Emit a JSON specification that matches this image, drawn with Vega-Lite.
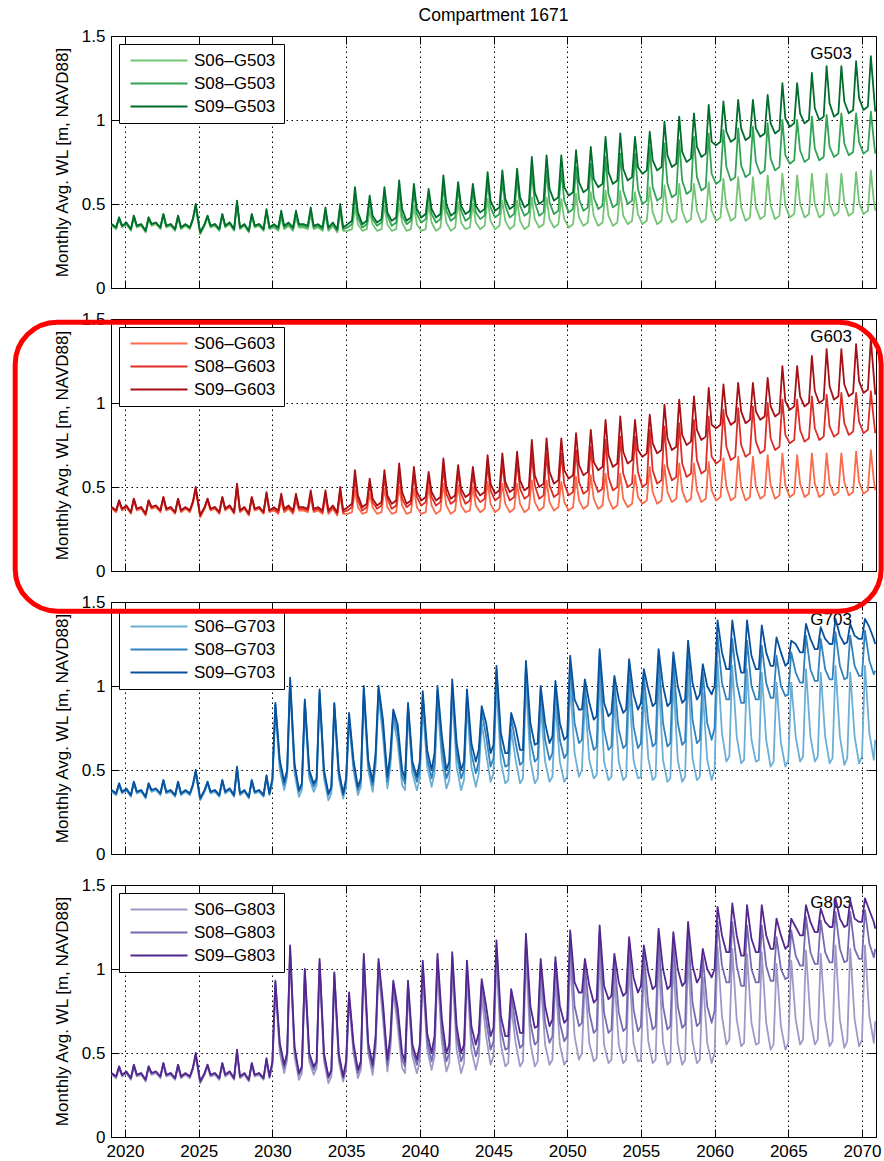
{
"$schema":"https://vega.github.io/schema/vega-lite/v6.json",
"padding":{"left":12,"top":7,"right":2,"bottom":0},
"title":{"text":"Compartment 1671","fontSize":17.5,"fontWeight":"normal","color":"black","anchor":"middle","frame":"group","offset":2},
"datasets":{
"up":[
{"t":2019.1,"a":0.37,"b":0.38,"c":0.38,"d":0.37,"e":0.38,"f":0.38},
{"t":2019.4,"a":0.35,"b":0.36,"c":0.36,"d":0.35,"e":0.36,"f":0.36},
{"t":2019.6,"a":0.41,"b":0.42,"c":0.42,"d":0.41,"e":0.42,"f":0.42},
{"t":2019.8,"a":0.36,"b":0.37,"c":0.37,"d":0.36,"e":0.37,"f":0.37},
{"t":2020.1,"a":0.38,"b":0.38,"c":0.39,"d":0.38,"e":0.38,"f":0.39},
{"t":2020.4,"a":0.34,"b":0.35,"c":0.35,"d":0.34,"e":0.35,"f":0.35},
{"t":2020.6,"a":0.42,"b":0.43,"c":0.43,"d":0.42,"e":0.43,"f":0.43},
{"t":2020.8,"a":0.36,"b":0.37,"c":0.37,"d":0.36,"e":0.37,"f":0.37},
{"t":2021.1,"a":0.37,"b":0.38,"c":0.38,"d":0.37,"e":0.38,"f":0.38},
{"t":2021.4,"a":0.33,"b":0.34,"c":0.34,"d":0.33,"e":0.34,"f":0.34},
{"t":2021.6,"a":0.41,"b":0.42,"c":0.42,"d":0.41,"e":0.42,"f":0.42},
{"t":2021.8,"a":0.37,"b":0.38,"c":0.38,"d":0.37,"e":0.38,"f":0.38},
{"t":2022.1,"a":0.38,"b":0.39,"c":0.39,"d":0.38,"e":0.39,"f":0.39},
{"t":2022.4,"a":0.35,"b":0.36,"c":0.36,"d":0.35,"e":0.36,"f":0.36},
{"t":2022.6,"a":0.43,"b":0.44,"c":0.44,"d":0.43,"e":0.44,"f":0.44},
{"t":2022.8,"a":0.36,"b":0.37,"c":0.37,"d":0.36,"e":0.37,"f":0.37},
{"t":2023.1,"a":0.37,"b":0.38,"c":0.38,"d":0.37,"e":0.38,"f":0.38},
{"t":2023.4,"a":0.34,"b":0.35,"c":0.35,"d":0.34,"e":0.35,"f":0.35},
{"t":2023.6,"a":0.42,"b":0.43,"c":0.43,"d":0.42,"e":0.43,"f":0.43},
{"t":2023.8,"a":0.35,"b":0.36,"c":0.36,"d":0.35,"e":0.36,"f":0.36},
{"t":2024.1,"a":0.37,"b":0.38,"c":0.38,"d":0.37,"e":0.38,"f":0.38},
{"t":2024.4,"a":0.35,"b":0.36,"c":0.36,"d":0.35,"e":0.36,"f":0.36},
{"t":2024.6,"a":0.40,"b":0.41,"c":0.41,"d":0.40,"e":0.41,"f":0.41},
{"t":2024.8,"a":0.48,"b":0.49,"c":0.50,"d":0.48,"e":0.49,"f":0.50},
{"t":2025.1,"a":0.32,"b":0.33,"c":0.33,"d":0.32,"e":0.33,"f":0.33},
{"t":2025.4,"a":0.37,"b":0.38,"c":0.38,"d":0.37,"e":0.38,"f":0.38},
{"t":2025.6,"a":0.42,"b":0.43,"c":0.43,"d":0.42,"e":0.43,"f":0.43},
{"t":2025.8,"a":0.36,"b":0.37,"c":0.37,"d":0.36,"e":0.37,"f":0.37},
{"t":2026.1,"a":0.37,"b":0.38,"c":0.38,"d":0.37,"e":0.38,"f":0.38},
{"t":2026.4,"a":0.34,"b":0.35,"c":0.35,"d":0.34,"e":0.35,"f":0.35},
{"t":2026.6,"a":0.43,"b":0.44,"c":0.44,"d":0.43,"e":0.44,"f":0.44},
{"t":2026.8,"a":0.36,"b":0.37,"c":0.37,"d":0.36,"e":0.37,"f":0.37},
{"t":2027.1,"a":0.38,"b":0.39,"c":0.39,"d":0.38,"e":0.39,"f":0.39},
{"t":2027.4,"a":0.34,"b":0.35,"c":0.35,"d":0.34,"e":0.35,"f":0.35},
{"t":2027.6,"a":0.50,"b":0.51,"c":0.52,"d":0.50,"e":0.51,"f":0.52},
{"t":2027.8,"a":0.35,"b":0.36,"c":0.36,"d":0.35,"e":0.36,"f":0.36},
{"t":2028.1,"a":0.37,"b":0.38,"c":0.38,"d":0.37,"e":0.38,"f":0.38},
{"t":2028.4,"a":0.33,"b":0.34,"c":0.34,"d":0.33,"e":0.34,"f":0.34},
{"t":2028.6,"a":0.43,"b":0.44,"c":0.44,"d":0.43,"e":0.44,"f":0.44},
{"t":2028.8,"a":0.36,"b":0.37,"c":0.37,"d":0.36,"e":0.37,"f":0.37},
{"t":2029.1,"a":0.37,"b":0.38,"c":0.38,"d":0.37,"e":0.38,"f":0.38},
{"t":2029.4,"a":0.34,"b":0.35,"c":0.35,"d":0.34,"e":0.35,"f":0.35},
{"t":2029.6,"a":0.45,"b":0.46,"c":0.47,"d":0.45,"e":0.46,"f":0.47},
{"t":2029.8,"a":0.35,"b":0.36,"c":0.36,"d":0.35,"e":0.36,"f":0.36},
{"t":2030.1,"a":0.36,"b":0.37,"c":0.38,"d":0.36,"e":0.37,"f":0.38},
{"t":2030.4,"a":0.34,"b":0.35,"c":0.36,"d":0.34,"e":0.35,"f":0.36},
{"t":2030.6,"a":0.42,"b":0.44,"c":0.46,"d":0.42,"e":0.44,"f":0.46},
{"t":2030.8,"a":0.35,"b":0.36,"c":0.37,"d":0.35,"e":0.36,"f":0.37},
{"t":2031.1,"a":0.37,"b":0.38,"c":0.39,"d":0.37,"e":0.38,"f":0.39},
{"t":2031.4,"a":0.34,"b":0.35,"c":0.36,"d":0.34,"e":0.35,"f":0.36},
{"t":2031.6,"a":0.42,"b":0.44,"c":0.46,"d":0.42,"e":0.44,"f":0.46},
{"t":2031.8,"a":0.36,"b":0.37,"c":0.38,"d":0.36,"e":0.37,"f":0.38},
{"t":2032.1,"a":0.36,"b":0.37,"c":0.38,"d":0.36,"e":0.37,"f":0.38},
{"t":2032.4,"a":0.35,"b":0.36,"c":0.37,"d":0.35,"e":0.36,"f":0.37},
{"t":2032.6,"a":0.44,"b":0.46,"c":0.48,"d":0.44,"e":0.46,"f":0.48},
{"t":2032.8,"a":0.35,"b":0.36,"c":0.37,"d":0.35,"e":0.36,"f":0.37},
{"t":2033.1,"a":0.36,"b":0.37,"c":0.38,"d":0.36,"e":0.37,"f":0.38},
{"t":2033.4,"a":0.34,"b":0.35,"c":0.36,"d":0.34,"e":0.35,"f":0.36},
{"t":2033.6,"a":0.44,"b":0.46,"c":0.48,"d":0.44,"e":0.46,"f":0.48},
{"t":2033.8,"a":0.34,"b":0.35,"c":0.36,"d":0.34,"e":0.35,"f":0.36},
{"t":2034.1,"a":0.37,"b":0.38,"c":0.39,"d":0.37,"e":0.38,"f":0.39},
{"t":2034.4,"a":0.33,"b":0.34,"c":0.35,"d":0.33,"e":0.34,"f":0.35},
{"t":2034.6,"a":0.45,"b":0.48,"c":0.50,"d":0.45,"e":0.48,"f":0.50},
{"t":2034.8,"a":0.34,"b":0.35,"c":0.36,"d":0.34,"e":0.35,"f":0.36},
{"t":2035.1,"a":0.34,"b":0.36,"c":0.38,"d":0.34,"e":0.36,"f":0.38},
{"t":2035.4,"a":0.35,"b":0.38,"c":0.40,"d":0.35,"e":0.38,"f":0.40},
{"t":2035.6,"a":0.48,"b":0.55,"c":0.60,"d":0.48,"e":0.55,"f":0.60},
{"t":2035.8,"a":0.38,"b":0.42,"c":0.45,"d":0.38,"e":0.42,"f":0.45},
{"t":2036.1,"a":0.34,"b":0.36,"c":0.38,"d":0.34,"e":0.36,"f":0.38},
{"t":2036.4,"a":0.35,"b":0.38,"c":0.40,"d":0.35,"e":0.38,"f":0.40},
{"t":2036.6,"a":0.46,"b":0.52,"c":0.55,"d":0.46,"e":0.52,"f":0.55},
{"t":2036.8,"a":0.38,"b":0.41,"c":0.43,"d":0.38,"e":0.41,"f":0.43},
{"t":2037.1,"a":0.34,"b":0.37,"c":0.39,"d":0.34,"e":0.37,"f":0.39},
{"t":2037.4,"a":0.35,"b":0.39,"c":0.41,"d":0.35,"e":0.39,"f":0.41},
{"t":2037.6,"a":0.49,"b":0.56,"c":0.60,"d":0.49,"e":0.56,"f":0.60},
{"t":2037.8,"a":0.38,"b":0.43,"c":0.45,"d":0.38,"e":0.43,"f":0.45},
{"t":2038.1,"a":0.34,"b":0.37,"c":0.40,"d":0.34,"e":0.37,"f":0.40},
{"t":2038.4,"a":0.35,"b":0.39,"c":0.42,"d":0.35,"e":0.39,"f":0.42},
{"t":2038.6,"a":0.50,"b":0.58,"c":0.64,"d":0.50,"e":0.58,"f":0.64},
{"t":2038.8,"a":0.39,"b":0.43,"c":0.47,"d":0.39,"e":0.43,"f":0.47},
{"t":2039.1,"a":0.34,"b":0.38,"c":0.40,"d":0.34,"e":0.38,"f":0.40},
{"t":2039.4,"a":0.35,"b":0.40,"c":0.42,"d":0.35,"e":0.40,"f":0.42},
{"t":2039.6,"a":0.49,"b":0.57,"c":0.62,"d":0.49,"e":0.57,"f":0.62},
{"t":2039.8,"a":0.38,"b":0.44,"c":0.47,"d":0.38,"e":0.44,"f":0.47},
{"t":2040.1,"a":0.34,"b":0.39,"c":0.42,"d":0.34,"e":0.39,"f":0.42},
{"t":2040.4,"a":0.35,"b":0.41,"c":0.44,"d":0.35,"e":0.41,"f":0.44},
{"t":2040.6,"a":0.50,"b":0.56,"c":0.59,"d":0.50,"e":0.56,"f":0.59},
{"t":2040.8,"a":0.39,"b":0.44,"c":0.47,"d":0.39,"e":0.44,"f":0.47},
{"t":2041.1,"a":0.34,"b":0.39,"c":0.42,"d":0.34,"e":0.39,"f":0.42},
{"t":2041.4,"a":0.36,"b":0.41,"c":0.44,"d":0.36,"e":0.41,"f":0.44},
{"t":2041.6,"a":0.52,"b":0.61,"c":0.67,"d":0.52,"e":0.61,"f":0.67},
{"t":2041.8,"a":0.39,"b":0.46,"c":0.50,"d":0.39,"e":0.46,"f":0.50},
{"t":2042.1,"a":0.34,"b":0.40,"c":0.43,"d":0.34,"e":0.40,"f":0.43},
{"t":2042.4,"a":0.36,"b":0.42,"c":0.45,"d":0.36,"e":0.42,"f":0.45},
{"t":2042.6,"a":0.51,"b":0.59,"c":0.63,"d":0.51,"e":0.59,"f":0.63},
{"t":2042.8,"a":0.39,"b":0.46,"c":0.49,"d":0.39,"e":0.46,"f":0.49},
{"t":2043.1,"a":0.35,"b":0.40,"c":0.44,"d":0.35,"e":0.40,"f":0.44},
{"t":2043.4,"a":0.36,"b":0.42,"c":0.46,"d":0.36,"e":0.42,"f":0.46},
{"t":2043.6,"a":0.50,"b":0.58,"c":0.62,"d":0.50,"e":0.58,"f":0.62},
{"t":2043.8,"a":0.39,"b":0.45,"c":0.49,"d":0.39,"e":0.45,"f":0.49},
{"t":2044.1,"a":0.35,"b":0.41,"c":0.45,"d":0.35,"e":0.41,"f":0.45},
{"t":2044.4,"a":0.37,"b":0.43,"c":0.47,"d":0.37,"e":0.43,"f":0.47},
{"t":2044.6,"a":0.53,"b":0.63,"c":0.69,"d":0.53,"e":0.63,"f":0.69},
{"t":2044.8,"a":0.40,"b":0.48,"c":0.52,"d":0.40,"e":0.48,"f":0.52},
{"t":2045.1,"a":0.35,"b":0.42,"c":0.46,"d":0.35,"e":0.42,"f":0.46},
{"t":2045.4,"a":0.37,"b":0.44,"c":0.48,"d":0.37,"e":0.44,"f":0.48},
{"t":2045.6,"a":0.52,"b":0.64,"c":0.70,"d":0.52,"e":0.64,"f":0.70},
{"t":2045.8,"a":0.40,"b":0.49,"c":0.53,"d":0.40,"e":0.49,"f":0.53},
{"t":2046.1,"a":0.35,"b":0.42,"c":0.47,"d":0.35,"e":0.42,"f":0.47},
{"t":2046.4,"a":0.37,"b":0.44,"c":0.49,"d":0.37,"e":0.44,"f":0.49},
{"t":2046.6,"a":0.52,"b":0.65,"c":0.71,"d":0.52,"e":0.65,"f":0.71},
{"t":2046.8,"a":0.40,"b":0.49,"c":0.54,"d":0.40,"e":0.49,"f":0.54},
{"t":2047.1,"a":0.35,"b":0.43,"c":0.48,"d":0.35,"e":0.43,"f":0.48},
{"t":2047.4,"a":0.37,"b":0.45,"c":0.50,"d":0.37,"e":0.45,"f":0.50},
{"t":2047.6,"a":0.54,"b":0.69,"c":0.78,"d":0.54,"e":0.69,"f":0.78},
{"t":2047.8,"a":0.41,"b":0.51,"c":0.57,"d":0.41,"e":0.51,"f":0.57},
{"t":2048.1,"a":0.36,"b":0.43,"c":0.50,"d":0.36,"e":0.43,"f":0.50},
{"t":2048.4,"a":0.38,"b":0.45,"c":0.52,"d":0.38,"e":0.45,"f":0.52},
{"t":2048.6,"a":0.54,"b":0.70,"c":0.79,"d":0.54,"e":0.70,"f":0.79},
{"t":2048.8,"a":0.41,"b":0.51,"c":0.59,"d":0.41,"e":0.51,"f":0.59},
{"t":2049.1,"a":0.36,"b":0.44,"c":0.52,"d":0.36,"e":0.44,"f":0.52},
{"t":2049.4,"a":0.38,"b":0.46,"c":0.54,"d":0.38,"e":0.46,"f":0.54},
{"t":2049.6,"a":0.53,"b":0.70,"c":0.79,"d":0.53,"e":0.70,"f":0.79},
{"t":2049.8,"a":0.41,"b":0.52,"c":0.60,"d":0.41,"e":0.52,"f":0.60},
{"t":2050.1,"a":0.36,"b":0.45,"c":0.55,"d":0.36,"e":0.45,"f":0.55},
{"t":2050.4,"a":0.38,"b":0.47,"c":0.57,"d":0.38,"e":0.47,"f":0.57},
{"t":2050.6,"a":0.56,"b":0.72,"c":0.82,"d":0.56,"e":0.72,"f":0.82},
{"t":2050.8,"a":0.42,"b":0.53,"c":0.63,"d":0.42,"e":0.53,"f":0.63},
{"t":2051.1,"a":0.37,"b":0.46,"c":0.57,"d":0.37,"e":0.46,"f":0.57},
{"t":2051.4,"a":0.39,"b":0.48,"c":0.59,"d":0.39,"e":0.48,"f":0.59},
{"t":2051.6,"a":0.57,"b":0.74,"c":0.84,"d":0.57,"e":0.74,"f":0.84},
{"t":2051.8,"a":0.43,"b":0.54,"c":0.65,"d":0.43,"e":0.54,"f":0.65},
{"t":2052.1,"a":0.37,"b":0.47,"c":0.60,"d":0.37,"e":0.47,"f":0.60},
{"t":2052.4,"a":0.39,"b":0.49,"c":0.62,"d":0.39,"e":0.49,"f":0.62},
{"t":2052.6,"a":0.58,"b":0.78,"c":0.90,"d":0.58,"e":0.78,"f":0.90},
{"t":2052.8,"a":0.43,"b":0.56,"c":0.69,"d":0.43,"e":0.56,"f":0.69},
{"t":2053.1,"a":0.37,"b":0.48,"c":0.62,"d":0.37,"e":0.48,"f":0.62},
{"t":2053.4,"a":0.39,"b":0.50,"c":0.64,"d":0.39,"e":0.50,"f":0.64},
{"t":2053.6,"a":0.58,"b":0.80,"c":0.92,"d":0.58,"e":0.80,"f":0.92},
{"t":2053.8,"a":0.43,"b":0.58,"c":0.71,"d":0.43,"e":0.58,"f":0.71},
{"t":2054.1,"a":0.38,"b":0.50,"c":0.64,"d":0.38,"e":0.50,"f":0.64},
{"t":2054.4,"a":0.40,"b":0.52,"c":0.66,"d":0.40,"e":0.52,"f":0.66},
{"t":2054.6,"a":0.57,"b":0.80,"c":0.90,"d":0.57,"e":0.80,"f":0.90},
{"t":2054.8,"a":0.44,"b":0.59,"c":0.72,"d":0.44,"e":0.59,"f":0.72},
{"t":2055.1,"a":0.38,"b":0.50,"c":0.68,"d":0.40,"e":0.50,"f":0.68},
{"t":2055.4,"a":0.40,"b":0.52,"c":0.70,"d":0.42,"e":0.52,"f":0.70},
{"t":2055.6,"a":0.60,"b":0.84,"c":0.93,"d":0.62,"e":0.84,"f":0.93},
{"t":2055.8,"a":0.45,"b":0.60,"c":0.76,"d":0.47,"e":0.60,"f":0.76},
{"t":2056.1,"a":0.38,"b":0.52,"c":0.70,"d":0.40,"e":0.52,"f":0.70},
{"t":2056.4,"a":0.40,"b":0.54,"c":0.72,"d":0.42,"e":0.54,"f":0.72},
{"t":2056.6,"a":0.61,"b":0.86,"c":0.99,"d":0.63,"e":0.86,"f":0.99},
{"t":2056.8,"a":0.45,"b":0.62,"c":0.79,"d":0.47,"e":0.62,"f":0.79},
{"t":2057.1,"a":0.39,"b":0.54,"c":0.72,"d":0.41,"e":0.54,"f":0.72},
{"t":2057.4,"a":0.41,"b":0.56,"c":0.74,"d":0.43,"e":0.56,"f":0.74},
{"t":2057.6,"a":0.62,"b":0.88,"c":1.02,"d":0.64,"e":0.88,"f":1.02},
{"t":2057.8,"a":0.46,"b":0.64,"c":0.81,"d":0.48,"e":0.64,"f":0.81},
{"t":2058.1,"a":0.39,"b":0.56,"c":0.75,"d":0.41,"e":0.56,"f":0.75},
{"t":2058.4,"a":0.41,"b":0.58,"c":0.77,"d":0.43,"e":0.58,"f":0.77},
{"t":2058.6,"a":0.62,"b":0.90,"c":1.04,"d":0.64,"e":0.90,"f":1.04},
{"t":2058.8,"a":0.46,"b":0.66,"c":0.84,"d":0.48,"e":0.66,"f":0.84},
{"t":2059.1,"a":0.39,"b":0.58,"c":0.78,"d":0.41,"e":0.58,"f":0.78},
{"t":2059.4,"a":0.41,"b":0.60,"c":0.80,"d":0.43,"e":0.60,"f":0.80},
{"t":2059.6,"a":0.63,"b":0.92,"c":1.09,"d":0.65,"e":0.92,"f":1.09},
{"t":2059.8,"a":0.46,"b":0.68,"c":0.87,"d":0.48,"e":0.68,"f":0.87},
{"t":2060.1,"a":0.40,"b":0.62,"c":0.85,"d":0.42,"e":0.64,"f":0.85},
{"t":2060.4,"a":0.42,"b":0.64,"c":0.87,"d":0.44,"e":0.66,"f":0.87},
{"t":2060.6,"a":0.65,"b":0.94,"c":1.11,"d":0.67,"e":0.96,"f":1.11},
{"t":2060.8,"a":0.48,"b":0.72,"c":0.93,"d":0.50,"e":0.74,"f":0.93},
{"t":2061.1,"a":0.40,"b":0.64,"c":0.87,"d":0.42,"e":0.66,"f":0.87},
{"t":2061.4,"a":0.42,"b":0.66,"c":0.89,"d":0.44,"e":0.68,"f":0.89},
{"t":2061.6,"a":0.66,"b":0.95,"c":1.12,"d":0.68,"e":0.97,"f":1.12},
{"t":2061.8,"a":0.48,"b":0.73,"c":0.95,"d":0.50,"e":0.75,"f":0.95},
{"t":2062.1,"a":0.40,"b":0.66,"c":0.88,"d":0.42,"e":0.68,"f":0.88},
{"t":2062.4,"a":0.42,"b":0.68,"c":0.90,"d":0.44,"e":0.70,"f":0.90},
{"t":2062.6,"a":0.66,"b":0.96,"c":1.12,"d":0.68,"e":0.98,"f":1.12},
{"t":2062.8,"a":0.48,"b":0.75,"c":0.95,"d":0.50,"e":0.77,"f":0.95},
{"t":2063.1,"a":0.41,"b":0.68,"c":0.90,"d":0.43,"e":0.70,"f":0.90},
{"t":2063.4,"a":0.43,"b":0.70,"c":0.92,"d":0.45,"e":0.72,"f":0.92},
{"t":2063.6,"a":0.67,"b":0.98,"c":1.15,"d":0.69,"e":1.00,"f":1.15},
{"t":2063.8,"a":0.49,"b":0.77,"c":0.98,"d":0.51,"e":0.79,"f":0.98},
{"t":2064.1,"a":0.41,"b":0.70,"c":0.92,"d":0.43,"e":0.72,"f":0.92},
{"t":2064.4,"a":0.43,"b":0.72,"c":0.94,"d":0.45,"e":0.74,"f":0.94},
{"t":2064.6,"a":0.68,"b":1.00,"c":1.22,"d":0.70,"e":1.02,"f":1.22},
{"t":2064.8,"a":0.49,"b":0.79,"c":1.01,"d":0.51,"e":0.81,"f":1.01},
{"t":2065.1,"a":0.42,"b":0.74,"c":0.96,"d":0.44,"e":0.76,"f":0.96},
{"t":2065.4,"a":0.44,"b":0.76,"c":0.98,"d":0.46,"e":0.78,"f":0.98},
{"t":2065.6,"a":0.67,"b":1.00,"c":1.22,"d":0.69,"e":1.02,"f":1.22},
{"t":2065.8,"a":0.50,"b":0.82,"c":1.04,"d":0.52,"e":0.84,"f":1.04},
{"t":2066.1,"a":0.42,"b":0.75,"c":0.98,"d":0.44,"e":0.77,"f":0.98},
{"t":2066.4,"a":0.44,"b":0.77,"c":1.00,"d":0.46,"e":0.79,"f":1.00},
{"t":2066.6,"a":0.68,"b":1.02,"c":1.28,"d":0.70,"e":1.04,"f":1.28},
{"t":2066.8,"a":0.50,"b":0.83,"c":1.07,"d":0.52,"e":0.85,"f":1.07},
{"t":2067.1,"a":0.42,"b":0.76,"c":1.00,"d":0.44,"e":0.78,"f":1.00},
{"t":2067.4,"a":0.44,"b":0.78,"c":1.02,"d":0.46,"e":0.80,"f":1.02},
{"t":2067.6,"a":0.68,"b":1.03,"c":1.32,"d":0.70,"e":1.05,"f":1.32},
{"t":2067.8,"a":0.50,"b":0.84,"c":1.10,"d":0.52,"e":0.86,"f":1.10},
{"t":2068.1,"a":0.43,"b":0.78,"c":1.02,"d":0.45,"e":0.80,"f":1.02},
{"t":2068.4,"a":0.45,"b":0.80,"c":1.04,"d":0.47,"e":0.82,"f":1.04},
{"t":2068.6,"a":0.68,"b":1.04,"c":1.32,"d":0.70,"e":1.06,"f":1.32},
{"t":2068.8,"a":0.51,"b":0.86,"c":1.11,"d":0.53,"e":0.88,"f":1.11},
{"t":2069.1,"a":0.43,"b":0.79,"c":1.04,"d":0.45,"e":0.81,"f":1.04},
{"t":2069.4,"a":0.45,"b":0.81,"c":1.06,"d":0.47,"e":0.83,"f":1.06},
{"t":2069.6,"a":0.69,"b":1.04,"c":1.35,"d":0.71,"e":1.06,"f":1.35},
{"t":2069.8,"a":0.51,"b":0.87,"c":1.13,"d":0.53,"e":0.89,"f":1.13},
{"t":2070.1,"a":0.44,"b":0.80,"c":1.06,"d":0.46,"e":0.82,"f":1.06},
{"t":2070.4,"a":0.46,"b":0.82,"c":1.08,"d":0.48,"e":0.84,"f":1.08},
{"t":2070.6,"a":0.70,"b":1.05,"c":1.38,"d":0.72,"e":1.07,"f":1.38},
{"t":2070.8,"a":0.52,"b":0.88,"c":1.16,"d":0.54,"e":0.90,"f":1.16},
{"t":2070.9,"a":0.46,"b":0.80,"c":1.05,"d":0.48,"e":0.82,"f":1.05}
],
"dn":[
{"t":2019.1,"g":0.37,"h":0.38,"i":0.38,"j":0.37,"k":0.38,"l":0.38},
{"t":2019.4,"g":0.35,"h":0.36,"i":0.36,"j":0.35,"k":0.36,"l":0.36},
{"t":2019.6,"g":0.41,"h":0.42,"i":0.42,"j":0.41,"k":0.42,"l":0.42},
{"t":2019.8,"g":0.36,"h":0.37,"i":0.37,"j":0.36,"k":0.37,"l":0.37},
{"t":2020.1,"g":0.38,"h":0.38,"i":0.39,"j":0.38,"k":0.38,"l":0.39},
{"t":2020.4,"g":0.34,"h":0.35,"i":0.35,"j":0.34,"k":0.35,"l":0.35},
{"t":2020.6,"g":0.42,"h":0.43,"i":0.43,"j":0.42,"k":0.43,"l":0.43},
{"t":2020.8,"g":0.36,"h":0.37,"i":0.37,"j":0.36,"k":0.37,"l":0.37},
{"t":2021.1,"g":0.37,"h":0.38,"i":0.38,"j":0.37,"k":0.38,"l":0.38},
{"t":2021.4,"g":0.33,"h":0.34,"i":0.34,"j":0.33,"k":0.34,"l":0.34},
{"t":2021.6,"g":0.41,"h":0.42,"i":0.42,"j":0.41,"k":0.42,"l":0.42},
{"t":2021.8,"g":0.37,"h":0.38,"i":0.38,"j":0.37,"k":0.38,"l":0.38},
{"t":2022.1,"g":0.38,"h":0.39,"i":0.39,"j":0.38,"k":0.39,"l":0.39},
{"t":2022.4,"g":0.35,"h":0.36,"i":0.36,"j":0.35,"k":0.36,"l":0.36},
{"t":2022.6,"g":0.43,"h":0.44,"i":0.44,"j":0.43,"k":0.44,"l":0.44},
{"t":2022.8,"g":0.36,"h":0.37,"i":0.37,"j":0.36,"k":0.37,"l":0.37},
{"t":2023.1,"g":0.37,"h":0.38,"i":0.38,"j":0.37,"k":0.38,"l":0.38},
{"t":2023.4,"g":0.34,"h":0.35,"i":0.35,"j":0.34,"k":0.35,"l":0.35},
{"t":2023.6,"g":0.42,"h":0.43,"i":0.43,"j":0.42,"k":0.43,"l":0.43},
{"t":2023.8,"g":0.35,"h":0.36,"i":0.36,"j":0.35,"k":0.36,"l":0.36},
{"t":2024.1,"g":0.37,"h":0.38,"i":0.38,"j":0.37,"k":0.38,"l":0.38},
{"t":2024.4,"g":0.35,"h":0.36,"i":0.36,"j":0.35,"k":0.36,"l":0.36},
{"t":2024.6,"g":0.40,"h":0.41,"i":0.41,"j":0.40,"k":0.41,"l":0.41},
{"t":2024.8,"g":0.48,"h":0.49,"i":0.50,"j":0.48,"k":0.49,"l":0.50},
{"t":2025.1,"g":0.32,"h":0.33,"i":0.33,"j":0.32,"k":0.33,"l":0.33},
{"t":2025.4,"g":0.37,"h":0.38,"i":0.38,"j":0.37,"k":0.38,"l":0.38},
{"t":2025.6,"g":0.42,"h":0.43,"i":0.43,"j":0.42,"k":0.43,"l":0.43},
{"t":2025.8,"g":0.36,"h":0.37,"i":0.37,"j":0.36,"k":0.37,"l":0.37},
{"t":2026.1,"g":0.37,"h":0.38,"i":0.38,"j":0.37,"k":0.38,"l":0.38},
{"t":2026.4,"g":0.34,"h":0.35,"i":0.35,"j":0.34,"k":0.35,"l":0.35},
{"t":2026.6,"g":0.43,"h":0.44,"i":0.44,"j":0.43,"k":0.44,"l":0.44},
{"t":2026.8,"g":0.36,"h":0.37,"i":0.37,"j":0.36,"k":0.37,"l":0.37},
{"t":2027.1,"g":0.38,"h":0.39,"i":0.39,"j":0.38,"k":0.39,"l":0.39},
{"t":2027.4,"g":0.34,"h":0.35,"i":0.35,"j":0.34,"k":0.35,"l":0.35},
{"t":2027.6,"g":0.50,"h":0.51,"i":0.52,"j":0.50,"k":0.51,"l":0.52},
{"t":2027.8,"g":0.35,"h":0.36,"i":0.36,"j":0.35,"k":0.36,"l":0.36},
{"t":2028.1,"g":0.37,"h":0.38,"i":0.38,"j":0.37,"k":0.38,"l":0.38},
{"t":2028.4,"g":0.33,"h":0.34,"i":0.34,"j":0.33,"k":0.34,"l":0.34},
{"t":2028.6,"g":0.43,"h":0.44,"i":0.44,"j":0.43,"k":0.44,"l":0.44},
{"t":2028.8,"g":0.36,"h":0.37,"i":0.37,"j":0.36,"k":0.37,"l":0.37},
{"t":2029.1,"g":0.37,"h":0.38,"i":0.38,"j":0.37,"k":0.38,"l":0.38},
{"t":2029.4,"g":0.34,"h":0.35,"i":0.35,"j":0.34,"k":0.35,"l":0.35},
{"t":2029.6,"g":0.45,"h":0.46,"i":0.47,"j":0.45,"k":0.46,"l":0.47},
{"t":2029.8,"g":0.35,"h":0.36,"i":0.36,"j":0.35,"k":0.36,"l":0.36},
{"t":2030.0,"g":0.42,"h":0.44,"i":0.45,"j":0.42,"k":0.44,"l":0.45},
{"t":2030.2,"g":0.86,"h":0.89,"i":0.90,"j":0.89,"k":0.92,"l":0.93},
{"t":2030.5,"g":0.50,"h":0.54,"i":0.56,"j":0.50,"k":0.54,"l":0.56},
{"t":2030.8,"g":0.38,"h":0.41,"i":0.43,"j":0.38,"k":0.41,"l":0.43},
{"t":2031.0,"g":0.46,"h":0.49,"i":0.50,"j":0.46,"k":0.49,"l":0.50},
{"t":2031.2,"g":1.00,"h":1.03,"i":1.05,"j":1.09,"k":1.12,"l":1.14},
{"t":2031.5,"g":0.48,"h":0.52,"i":0.54,"j":0.48,"k":0.52,"l":0.54},
{"t":2031.8,"g":0.34,"h":0.37,"i":0.38,"j":0.34,"k":0.37,"l":0.38},
{"t":2032.0,"g":0.38,"h":0.41,"i":0.42,"j":0.38,"k":0.41,"l":0.42},
{"t":2032.2,"g":0.88,"h":0.91,"i":0.92,"j":0.96,"k":0.99,"l":1.00},
{"t":2032.5,"g":0.45,"h":0.48,"i":0.50,"j":0.45,"k":0.48,"l":0.50},
{"t":2032.8,"g":0.37,"h":0.40,"i":0.42,"j":0.37,"k":0.40,"l":0.42},
{"t":2033.0,"g":0.41,"h":0.44,"i":0.45,"j":0.41,"k":0.44,"l":0.45},
{"t":2033.2,"g":0.93,"h":0.96,"i":0.98,"j":1.01,"k":1.04,"l":1.06},
{"t":2033.5,"g":0.45,"h":0.48,"i":0.50,"j":0.45,"k":0.48,"l":0.50},
{"t":2033.8,"g":0.32,"h":0.35,"i":0.36,"j":0.32,"k":0.35,"l":0.36},
{"t":2034.0,"g":0.36,"h":0.39,"i":0.40,"j":0.36,"k":0.39,"l":0.40},
{"t":2034.2,"g":0.86,"h":0.89,"i":0.90,"j":0.94,"k":0.97,"l":0.98},
{"t":2034.5,"g":0.45,"h":0.48,"i":0.50,"j":0.45,"k":0.48,"l":0.50},
{"t":2034.8,"g":0.33,"h":0.35,"i":0.36,"j":0.33,"k":0.35,"l":0.36},
{"t":2035.0,"g":0.40,"h":0.43,"i":0.45,"j":0.40,"k":0.43,"l":0.45},
{"t":2035.2,"g":0.79,"h":0.82,"i":0.84,"j":0.81,"k":0.84,"l":0.86},
{"t":2035.5,"g":0.50,"h":0.53,"i":0.56,"j":0.50,"k":0.53,"l":0.56},
{"t":2035.8,"g":0.35,"h":0.38,"i":0.40,"j":0.35,"k":0.38,"l":0.40},
{"t":2036.0,"g":0.40,"h":0.43,"i":0.45,"j":0.40,"k":0.43,"l":0.45},
{"t":2036.2,"g":0.94,"h":0.98,"i":1.00,"j":1.03,"k":1.07,"l":1.09},
{"t":2036.5,"g":0.50,"h":0.53,"i":0.56,"j":0.50,"k":0.53,"l":0.56},
{"t":2036.8,"g":0.37,"h":0.41,"i":0.43,"j":0.37,"k":0.41,"l":0.43},
{"t":2037.0,"g":0.52,"h":0.56,"i":0.60,"j":0.52,"k":0.56,"l":0.60},
{"t":2037.2,"g":0.94,"h":0.98,"i":1.00,"j":1.00,"k":1.04,"l":1.06},
{"t":2037.5,"g":0.70,"h":0.76,"i":0.80,"j":0.70,"k":0.76,"l":0.80},
{"t":2037.8,"g":0.39,"h":0.43,"i":0.46,"j":0.39,"k":0.43,"l":0.46},
{"t":2038.0,"g":0.52,"h":0.56,"i":0.60,"j":0.52,"k":0.56,"l":0.60},
{"t":2038.2,"g":0.80,"h":0.84,"i":0.86,"j":0.87,"k":0.91,"l":0.93},
{"t":2038.5,"g":0.66,"h":0.72,"i":0.77,"j":0.66,"k":0.72,"l":0.77},
{"t":2038.8,"g":0.41,"h":0.46,"i":0.50,"j":0.41,"k":0.46,"l":0.50},
{"t":2039.0,"g":0.38,"h":0.42,"i":0.45,"j":0.38,"k":0.42,"l":0.45},
{"t":2039.2,"g":0.84,"h":0.88,"i":0.90,"j":0.87,"k":0.91,"l":0.93},
{"t":2039.5,"g":0.48,"h":0.52,"i":0.55,"j":0.48,"k":0.52,"l":0.55},
{"t":2039.8,"g":0.38,"h":0.43,"i":0.46,"j":0.38,"k":0.43,"l":0.46},
{"t":2040.0,"g":0.45,"h":0.50,"i":0.55,"j":0.45,"k":0.50,"l":0.55},
{"t":2040.2,"g":0.88,"h":0.94,"i":0.97,"j":0.96,"k":1.02,"l":1.05},
{"t":2040.5,"g":0.52,"h":0.57,"i":0.62,"j":0.52,"k":0.57,"l":0.62},
{"t":2040.8,"g":0.40,"h":0.45,"i":0.50,"j":0.40,"k":0.45,"l":0.50},
{"t":2041.0,"g":0.48,"h":0.54,"i":0.60,"j":0.48,"k":0.54,"l":0.60},
{"t":2041.2,"g":0.90,"h":0.97,"i":1.00,"j":0.99,"k":1.06,"l":1.09},
{"t":2041.5,"g":0.56,"h":0.63,"i":0.70,"j":0.56,"k":0.63,"l":0.70},
{"t":2041.8,"g":0.39,"h":0.45,"i":0.50,"j":0.39,"k":0.45,"l":0.50},
{"t":2042.0,"g":0.44,"h":0.50,"i":0.55,"j":0.44,"k":0.50,"l":0.55},
{"t":2042.2,"g":0.94,"h":1.01,"i":1.04,"j":1.00,"k":1.07,"l":1.10},
{"t":2042.5,"g":0.52,"h":0.60,"i":0.66,"j":0.52,"k":0.60,"l":0.66},
{"t":2042.8,"g":0.38,"h":0.45,"i":0.50,"j":0.38,"k":0.45,"l":0.50},
{"t":2043.0,"g":0.44,"h":0.50,"i":0.55,"j":0.44,"k":0.50,"l":0.55},
{"t":2043.2,"g":0.88,"h":0.95,"i":0.98,"j":0.95,"k":1.02,"l":1.05},
{"t":2043.5,"g":0.52,"h":0.60,"i":0.66,"j":0.52,"k":0.60,"l":0.66},
{"t":2043.8,"g":0.40,"h":0.48,"i":0.55,"j":0.40,"k":0.48,"l":0.55},
{"t":2044.0,"g":0.48,"h":0.55,"i":0.62,"j":0.48,"k":0.55,"l":0.62},
{"t":2044.2,"g":0.78,"h":0.85,"i":0.88,"j":0.84,"k":0.91,"l":0.94},
{"t":2044.5,"g":0.60,"h":0.70,"i":0.78,"j":0.60,"k":0.70,"l":0.78},
{"t":2044.8,"g":0.43,"h":0.52,"i":0.60,"j":0.43,"k":0.52,"l":0.60},
{"t":2045.0,"g":0.48,"h":0.57,"i":0.65,"j":0.48,"k":0.57,"l":0.65},
{"t":2045.2,"g":1.00,"h":1.09,"i":1.12,"j":1.05,"k":1.14,"l":1.17},
{"t":2045.5,"g":0.55,"h":0.64,"i":0.72,"j":0.55,"k":0.64,"l":0.72},
{"t":2045.8,"g":0.42,"h":0.52,"i":0.60,"j":0.42,"k":0.52,"l":0.60},
{"t":2046.0,"g":0.44,"h":0.53,"i":0.60,"j":0.44,"k":0.53,"l":0.60},
{"t":2046.2,"g":0.74,"h":0.81,"i":0.84,"j":0.78,"k":0.85,"l":0.88},
{"t":2046.5,"g":0.56,"h":0.66,"i":0.75,"j":0.56,"k":0.66,"l":0.75},
{"t":2046.8,"g":0.42,"h":0.53,"i":0.62,"j":0.42,"k":0.53,"l":0.62},
{"t":2047.0,"g":0.45,"h":0.55,"i":0.62,"j":0.45,"k":0.55,"l":0.62},
{"t":2047.2,"g":1.02,"h":1.12,"i":1.15,"j":1.08,"k":1.18,"l":1.21},
{"t":2047.5,"g":0.56,"h":0.68,"i":0.78,"j":0.56,"k":0.68,"l":0.78},
{"t":2047.8,"g":0.42,"h":0.55,"i":0.65,"j":0.42,"k":0.55,"l":0.65},
{"t":2048.0,"g":0.45,"h":0.57,"i":0.66,"j":0.45,"k":0.57,"l":0.66},
{"t":2048.2,"g":0.88,"h":0.97,"i":1.00,"j":0.94,"k":1.03,"l":1.06},
{"t":2048.5,"g":0.55,"h":0.68,"i":0.78,"j":0.55,"k":0.68,"l":0.78},
{"t":2048.8,"g":0.43,"h":0.56,"i":0.66,"j":0.43,"k":0.56,"l":0.66},
{"t":2049.0,"g":0.46,"h":0.60,"i":0.70,"j":0.46,"k":0.60,"l":0.70},
{"t":2049.2,"g":0.90,"h":1.00,"i":1.03,"j":0.94,"k":1.04,"l":1.07},
{"t":2049.5,"g":0.55,"h":0.68,"i":0.78,"j":0.55,"k":0.68,"l":0.78},
{"t":2049.8,"g":0.43,"h":0.57,"i":0.68,"j":0.43,"k":0.57,"l":0.68},
{"t":2050.0,"g":0.46,"h":0.60,"i":0.70,"j":0.46,"k":0.60,"l":0.70},
{"t":2050.2,"g":1.02,"h":1.14,"i":1.18,"j":1.07,"k":1.19,"l":1.23},
{"t":2050.5,"g":0.60,"h":0.78,"i":0.92,"j":0.60,"k":0.78,"l":0.92},
{"t":2050.8,"g":0.46,"h":0.66,"i":0.86,"j":0.46,"k":0.66,"l":0.86},
{"t":2051.0,"g":0.50,"h":0.68,"i":0.86,"j":0.50,"k":0.68,"l":0.86},
{"t":2051.2,"g":0.92,"h":1.00,"i":1.04,"j":0.94,"k":1.02,"l":1.06},
{"t":2051.5,"g":0.56,"h":0.74,"i":0.90,"j":0.56,"k":0.74,"l":0.90},
{"t":2051.8,"g":0.45,"h":0.62,"i":0.80,"j":0.45,"k":0.62,"l":0.80},
{"t":2052.0,"g":0.47,"h":0.64,"i":0.82,"j":0.47,"k":0.64,"l":0.82},
{"t":2052.2,"g":1.06,"h":1.18,"i":1.22,"j":1.10,"k":1.22,"l":1.26},
{"t":2052.5,"g":0.55,"h":0.74,"i":0.90,"j":0.55,"k":0.74,"l":0.90},
{"t":2052.8,"g":0.44,"h":0.62,"i":0.82,"j":0.44,"k":0.62,"l":0.82},
{"t":2053.0,"g":0.46,"h":0.64,"i":0.84,"j":0.46,"k":0.64,"l":0.84},
{"t":2053.2,"g":0.92,"h":1.02,"i":1.06,"j":0.95,"k":1.05,"l":1.09},
{"t":2053.5,"g":0.55,"h":0.74,"i":0.92,"j":0.55,"k":0.74,"l":0.92},
{"t":2053.8,"g":0.44,"h":0.63,"i":0.84,"j":0.44,"k":0.63,"l":0.84},
{"t":2054.0,"g":0.46,"h":0.65,"i":0.86,"j":0.46,"k":0.65,"l":0.86},
{"t":2054.2,"g":1.00,"h":1.12,"i":1.16,"j":1.03,"k":1.15,"l":1.19},
{"t":2054.5,"g":0.56,"h":0.76,"i":0.95,"j":0.56,"k":0.76,"l":0.95},
{"t":2054.8,"g":0.45,"h":0.63,"i":0.86,"j":0.45,"k":0.63,"l":0.86},
{"t":2055.0,"g":0.46,"h":0.66,"i":0.90,"j":0.46,"k":0.66,"l":0.90},
{"t":2055.2,"g":0.96,"h":1.06,"i":1.10,"j":1.00,"k":1.10,"l":1.14},
{"t":2055.5,"g":0.57,"h":0.78,"i":0.98,"j":0.57,"k":0.78,"l":0.98},
{"t":2055.8,"g":0.44,"h":0.64,"i":0.88,"j":0.44,"k":0.64,"l":0.88},
{"t":2056.0,"g":0.46,"h":0.66,"i":0.90,"j":0.46,"k":0.66,"l":0.90},
{"t":2056.2,"g":1.05,"h":1.18,"i":1.22,"j":1.07,"k":1.20,"l":1.24},
{"t":2056.5,"g":0.56,"h":0.78,"i":1.00,"j":0.56,"k":0.78,"l":1.00},
{"t":2056.8,"g":0.43,"h":0.64,"i":0.88,"j":0.43,"k":0.64,"l":0.88},
{"t":2057.0,"g":0.45,"h":0.66,"i":0.90,"j":0.45,"k":0.66,"l":0.90},
{"t":2057.2,"g":1.04,"h":1.16,"i":1.20,"j":1.06,"k":1.18,"l":1.22},
{"t":2057.5,"g":0.56,"h":0.78,"i":1.00,"j":0.56,"k":0.78,"l":1.00},
{"t":2057.8,"g":0.43,"h":0.65,"i":0.90,"j":0.43,"k":0.65,"l":0.90},
{"t":2058.0,"g":0.46,"h":0.67,"i":0.92,"j":0.46,"k":0.67,"l":0.92},
{"t":2058.2,"g":1.08,"h":1.22,"i":1.27,"j":1.09,"k":1.23,"l":1.28},
{"t":2058.5,"g":0.57,"h":0.80,"i":1.02,"j":0.57,"k":0.80,"l":1.02},
{"t":2058.8,"g":0.44,"h":0.66,"i":0.92,"j":0.44,"k":0.66,"l":0.92},
{"t":2059.0,"g":0.46,"h":0.68,"i":0.95,"j":0.46,"k":0.68,"l":0.95},
{"t":2059.2,"g":0.96,"h":1.08,"i":1.13,"j":0.95,"k":1.07,"l":1.12},
{"t":2059.5,"g":0.56,"h":0.78,"i":1.00,"j":0.56,"k":0.78,"l":1.00},
{"t":2059.8,"g":0.44,"h":0.68,"i":0.95,"j":0.44,"k":0.68,"l":0.95},
{"t":2060.0,"g":0.50,"h":0.75,"i":1.00,"j":0.50,"k":0.75,"l":1.00},
{"t":2060.2,"g":1.15,"h":1.30,"i":1.39,"j":1.13,"k":1.28,"l":1.37},
{"t":2060.5,"g":0.72,"h":1.02,"i":1.20,"j":0.72,"k":1.02,"l":1.20},
{"t":2060.8,"g":0.55,"h":0.92,"i":1.10,"j":0.55,"k":0.92,"l":1.10},
{"t":2061.0,"g":0.58,"h":0.92,"i":1.10,"j":0.58,"k":0.92,"l":1.10},
{"t":2061.2,"g":1.12,"h":1.28,"i":1.39,"j":1.12,"k":1.28,"l":1.39},
{"t":2061.5,"g":0.70,"h":1.02,"i":1.20,"j":0.70,"k":1.02,"l":1.20},
{"t":2061.8,"g":0.54,"h":0.90,"i":1.08,"j":0.54,"k":0.90,"l":1.08},
{"t":2062.0,"g":0.56,"h":0.90,"i":1.08,"j":0.56,"k":0.90,"l":1.08},
{"t":2062.2,"g":1.10,"h":1.27,"i":1.39,"j":1.09,"k":1.26,"l":1.38},
{"t":2062.5,"g":0.68,"h":1.00,"i":1.18,"j":0.68,"k":1.00,"l":1.18},
{"t":2062.8,"g":0.55,"h":0.92,"i":1.10,"j":0.55,"k":0.92,"l":1.10},
{"t":2063.0,"g":0.56,"h":0.92,"i":1.10,"j":0.56,"k":0.92,"l":1.10},
{"t":2063.2,"g":1.08,"h":1.24,"i":1.36,"j":1.10,"k":1.26,"l":1.38},
{"t":2063.5,"g":0.68,"h":1.02,"i":1.20,"j":0.68,"k":1.02,"l":1.20},
{"t":2063.8,"g":0.52,"h":0.93,"i":1.12,"j":0.52,"k":0.93,"l":1.12},
{"t":2064.0,"g":0.55,"h":0.93,"i":1.12,"j":0.55,"k":0.93,"l":1.12},
{"t":2064.2,"g":1.02,"h":1.18,"i":1.29,"j":1.03,"k":1.19,"l":1.30},
{"t":2064.5,"g":0.66,"h":1.00,"i":1.20,"j":0.66,"k":1.00,"l":1.20},
{"t":2064.8,"g":0.52,"h":0.94,"i":1.12,"j":0.52,"k":0.94,"l":1.12},
{"t":2065.0,"g":0.56,"h":0.95,"i":1.14,"j":0.56,"k":0.95,"l":1.14},
{"t":2065.2,"g":1.02,"h":1.20,"i":1.27,"j":1.05,"k":1.23,"l":1.30},
{"t":2065.5,"g":0.70,"h":1.08,"i":1.25,"j":0.70,"k":1.08,"l":1.25},
{"t":2065.8,"g":0.55,"h":1.02,"i":1.20,"j":0.55,"k":1.02,"l":1.20},
{"t":2066.0,"g":0.58,"h":1.02,"i":1.20,"j":0.58,"k":1.02,"l":1.20},
{"t":2066.2,"g":1.10,"h":1.30,"i":1.37,"j":1.11,"k":1.31,"l":1.38},
{"t":2066.5,"g":0.70,"h":1.10,"i":1.28,"j":0.70,"k":1.10,"l":1.28},
{"t":2066.8,"g":0.55,"h":1.03,"i":1.22,"j":0.55,"k":1.03,"l":1.22},
{"t":2067.0,"g":0.58,"h":1.03,"i":1.22,"j":0.58,"k":1.03,"l":1.22},
{"t":2067.2,"g":1.08,"h":1.28,"i":1.35,"j":1.09,"k":1.29,"l":1.36},
{"t":2067.5,"g":0.70,"h":1.10,"i":1.28,"j":0.70,"k":1.10,"l":1.28},
{"t":2067.8,"g":0.54,"h":1.04,"i":1.25,"j":0.54,"k":1.04,"l":1.25},
{"t":2068.0,"g":0.57,"h":1.04,"i":1.25,"j":0.57,"k":1.04,"l":1.25},
{"t":2068.2,"g":1.12,"h":1.32,"i":1.40,"j":1.14,"k":1.34,"l":1.42},
{"t":2068.5,"g":0.70,"h":1.12,"i":1.30,"j":0.70,"k":1.12,"l":1.30},
{"t":2068.8,"g":0.53,"h":1.04,"i":1.25,"j":0.53,"k":1.04,"l":1.25},
{"t":2069.0,"g":0.57,"h":1.05,"i":1.26,"j":0.57,"k":1.05,"l":1.26},
{"t":2069.2,"g":1.08,"h":1.30,"i":1.37,"j":1.12,"k":1.34,"l":1.41},
{"t":2069.5,"g":0.70,"h":1.12,"i":1.30,"j":0.70,"k":1.12,"l":1.30},
{"t":2069.8,"g":0.54,"h":1.06,"i":1.28,"j":0.54,"k":1.06,"l":1.28},
{"t":2070.0,"g":0.58,"h":1.06,"i":1.28,"j":0.58,"k":1.06,"l":1.28},
{"t":2070.2,"g":1.12,"h":1.33,"i":1.40,"j":1.14,"k":1.35,"l":1.42},
{"t":2070.5,"g":0.72,"h":1.15,"i":1.35,"j":0.72,"k":1.15,"l":1.35},
{"t":2070.8,"g":0.56,"h":1.07,"i":1.28,"j":0.56,"k":1.07,"l":1.28},
{"t":2070.9,"g":0.68,"h":1.09,"i":1.25,"j":0.69,"k":1.12,"l":1.24}
]
},
"spacing":31,
"bounds":"flush",
"resolve":{"scale":{"color":"independent"},"legend":{"color":"independent"}},
"vconcat":[
{
"width":765,"height":252,
"data":{"name":"up"},
"layer":[
{"data":{"values":[{"px":2067.9,"py":1.393,"lab":"G503"}]},
"mark":{"type":"text","fontSize":17,"align":"center","baseline":"middle","color":"black"},
"encoding":{
"x":{"field":"px","type":"quantitative","scale":{"domain":[2019.05,2070.95],"nice":false,"zero":false},"axis":{"orient":"top","values":[2020,2025,2030,2035,2040,2045,2050,2055,2060,2065,2070],"labels":false,"grid":false,"domain":false,"title":null}},
"y":{"field":"py","type":"quantitative","scale":{"domain":[0,1.5],"nice":false},"axis":{"orient":"right","values":[0,0.5,1,1.5],"labels":false,"grid":false,"domain":false,"title":null}},
"text":{"field":"lab"}}},
{"transform":[{"fold":["a","b","c"],"as":["ser","v"]}],
"mark":{"type":"line","strokeWidth":1.8,"strokeJoin":"round"},
"encoding":{
"x":{"field":"t","type":"quantitative","scale":{"domain":[2019.05,2070.95],"nice":false,"zero":false},"axis":{"orient":"bottom","grid":true,"values":[2020,2025,2030,2035,2040,2045,2050,2055,2060,2065,2070],"labels":false,"title":null}},
"y":{"field":"v","type":"quantitative","scale":{"domain":[0,1.5],"nice":false},"axis":{"orient":"left","grid":true,"values":[0,0.5,1,1.5],"format":"~g","title":"Monthly Avg. WL [m, NAVD88]"}},
"color":{"field":"ser","type":"nominal","scale":{"domain":["a","b","c"],"range":["#74c476","#31a354","#006d2c"]},"legend":{"labelExpr":"datum.label=='a'?'S06–G503':datum.label=='b'?'S08–G503':'S09–G503'"}}}}
],
"resolve":{"axis":{"x":"independent","y":"independent"}}
},
{
"width":765,"height":252,
"data":{"name":"up"},
"layer":[
{"data":{"values":[{"px":2067.9,"py":1.393,"lab":"G603"}]},
"mark":{"type":"text","fontSize":17,"align":"center","baseline":"middle","color":"black"},
"encoding":{
"x":{"field":"px","type":"quantitative","scale":{"domain":[2019.05,2070.95],"nice":false,"zero":false},"axis":{"orient":"top","values":[2020,2025,2030,2035,2040,2045,2050,2055,2060,2065,2070],"labels":false,"grid":false,"domain":false,"title":null}},
"y":{"field":"py","type":"quantitative","scale":{"domain":[0,1.5],"nice":false},"axis":{"orient":"right","values":[0,0.5,1,1.5],"labels":false,"grid":false,"domain":false,"title":null}},
"text":{"field":"lab"}}},
{"transform":[{"fold":["d","e","f"],"as":["ser","v"]}],
"mark":{"type":"line","strokeWidth":1.8,"strokeJoin":"round"},
"encoding":{
"x":{"field":"t","type":"quantitative","scale":{"domain":[2019.05,2070.95],"nice":false,"zero":false},"axis":{"orient":"bottom","grid":true,"values":[2020,2025,2030,2035,2040,2045,2050,2055,2060,2065,2070],"labels":false,"title":null}},
"y":{"field":"v","type":"quantitative","scale":{"domain":[0,1.5],"nice":false},"axis":{"orient":"left","grid":true,"values":[0,0.5,1,1.5],"format":"~g","title":"Monthly Avg. WL [m, NAVD88]"}},
"color":{"field":"ser","type":"nominal","scale":{"domain":["d","e","f"],"range":["#fb6a4a","#de2d26","#a50f15"]},"legend":{"labelExpr":"datum.label=='d'?'S06–G603':datum.label=='e'?'S08–G603':'S09–G603'"}}}}
],
"resolve":{"axis":{"x":"independent","y":"independent"}}
},
{
"width":765,"height":252,
"data":{"name":"dn"},
"layer":[
{"data":{"values":[{"px":2067.9,"py":1.393,"lab":"G703"}]},
"mark":{"type":"text","fontSize":17,"align":"center","baseline":"middle","color":"black"},
"encoding":{
"x":{"field":"px","type":"quantitative","scale":{"domain":[2019.05,2070.95],"nice":false,"zero":false},"axis":{"orient":"top","values":[2020,2025,2030,2035,2040,2045,2050,2055,2060,2065,2070],"labels":false,"grid":false,"domain":false,"title":null}},
"y":{"field":"py","type":"quantitative","scale":{"domain":[0,1.5],"nice":false},"axis":{"orient":"right","values":[0,0.5,1,1.5],"labels":false,"grid":false,"domain":false,"title":null}},
"text":{"field":"lab"}}},
{"transform":[{"fold":["g","h","i"],"as":["ser","v"]}],
"mark":{"type":"line","strokeWidth":1.8,"strokeJoin":"round"},
"encoding":{
"x":{"field":"t","type":"quantitative","scale":{"domain":[2019.05,2070.95],"nice":false,"zero":false},"axis":{"orient":"bottom","grid":true,"values":[2020,2025,2030,2035,2040,2045,2050,2055,2060,2065,2070],"labels":false,"title":null}},
"y":{"field":"v","type":"quantitative","scale":{"domain":[0,1.5],"nice":false},"axis":{"orient":"left","grid":true,"values":[0,0.5,1,1.5],"format":"~g","title":"Monthly Avg. WL [m, NAVD88]"}},
"color":{"field":"ser","type":"nominal","scale":{"domain":["g","h","i"],"range":["#6baed6","#3182bd","#08519c"]},"legend":{"labelExpr":"datum.label=='g'?'S06–G703':datum.label=='h'?'S08–G703':'S09–G703'"}}}}
],
"resolve":{"axis":{"x":"independent","y":"independent"}}
},
{
"width":765,"height":252,
"data":{"name":"dn"},
"layer":[
{"data":{"values":[{"px":2067.9,"py":1.393,"lab":"G803"}]},
"mark":{"type":"text","fontSize":17,"align":"center","baseline":"middle","color":"black"},
"encoding":{
"x":{"field":"px","type":"quantitative","scale":{"domain":[2019.05,2070.95],"nice":false,"zero":false},"axis":{"orient":"top","values":[2020,2025,2030,2035,2040,2045,2050,2055,2060,2065,2070],"labels":false,"grid":false,"domain":false,"title":null}},
"y":{"field":"py","type":"quantitative","scale":{"domain":[0,1.5],"nice":false},"axis":{"orient":"right","values":[0,0.5,1,1.5],"labels":false,"grid":false,"domain":false,"title":null}},
"text":{"field":"lab"}}},
{"transform":[{"fold":["j","k","l"],"as":["ser","v"]}],
"mark":{"type":"line","strokeWidth":1.8,"strokeJoin":"round"},
"encoding":{
"x":{"field":"t","type":"quantitative","scale":{"domain":[2019.05,2070.95],"nice":false,"zero":false},"axis":{"orient":"bottom","grid":true,"values":[2020,2025,2030,2035,2040,2045,2050,2055,2060,2065,2070],"format":"d","title":null}},
"y":{"field":"v","type":"quantitative","scale":{"domain":[0,1.5],"nice":false},"axis":{"orient":"left","grid":true,"values":[0,0.5,1,1.5],"format":"~g","title":"Monthly Avg. WL [m, NAVD88]"}},
"color":{"field":"ser","type":"nominal","scale":{"domain":["j","k","l"],"range":["#9e9ac8","#756bb1","#54278f"]},"legend":{"labelExpr":"datum.label=='j'?'S06–G803':datum.label=='k'?'S08–G803':'S09–G803'"}}}},
{"data":{"values":[{"x1":2012.55,"x2":2071.3,"y1":3.13,"y2":4.85}]},
"mark":{"type":"rect","fillOpacity":0,"stroke":"#ff0000","strokeWidth":5,"cornerRadius":42,"clip":false},
"encoding":{
"x":{"field":"x1","type":"quantitative","axis":null,"scale":{"domain":[2019.05,2070.95],"nice":false,"zero":false}},
"x2":{"field":"x2"},
"y":{"field":"y1","type":"quantitative","axis":null,"scale":{"domain":[0,1.5],"nice":false}},
"y2":{"field":"y2"}}}
],
"resolve":{"axis":{"x":"independent","y":"independent"}}
}
],
"config":{
"font":"Liberation Sans",
"view":{"stroke":"black","strokeWidth":1},
"axis":{"gridColor":"black","gridDash":[1.5,3.5],"gridOpacity":1,"gridWidth":1,"tickColor":"black","tickSize":-8,"tickWidth":1,"domainColor":"black","labelFont":"Liberation Sans","labelFontSize":17,"labelColor":"black","titleFont":"Liberation Sans","titleFontSize":17,"titleFontWeight":"normal","titleColor":"black"},
"axisX":{"labelPadding":14},
"axisY":{"labelPadding":14,"titlePadding":10},
"legend":{"orient":"top-left","offset":8,"title":null,"padding":8,"strokeColor":"black","fillColor":"white","labelFont":"Liberation Sans","labelFontSize":17,"labelColor":"black","symbolType":"M-1,0H10.4","symbolSize":100,"symbolStrokeWidth":2,"labelOffset":50,"rowPadding":5,"labelLimit":300}
}
}
